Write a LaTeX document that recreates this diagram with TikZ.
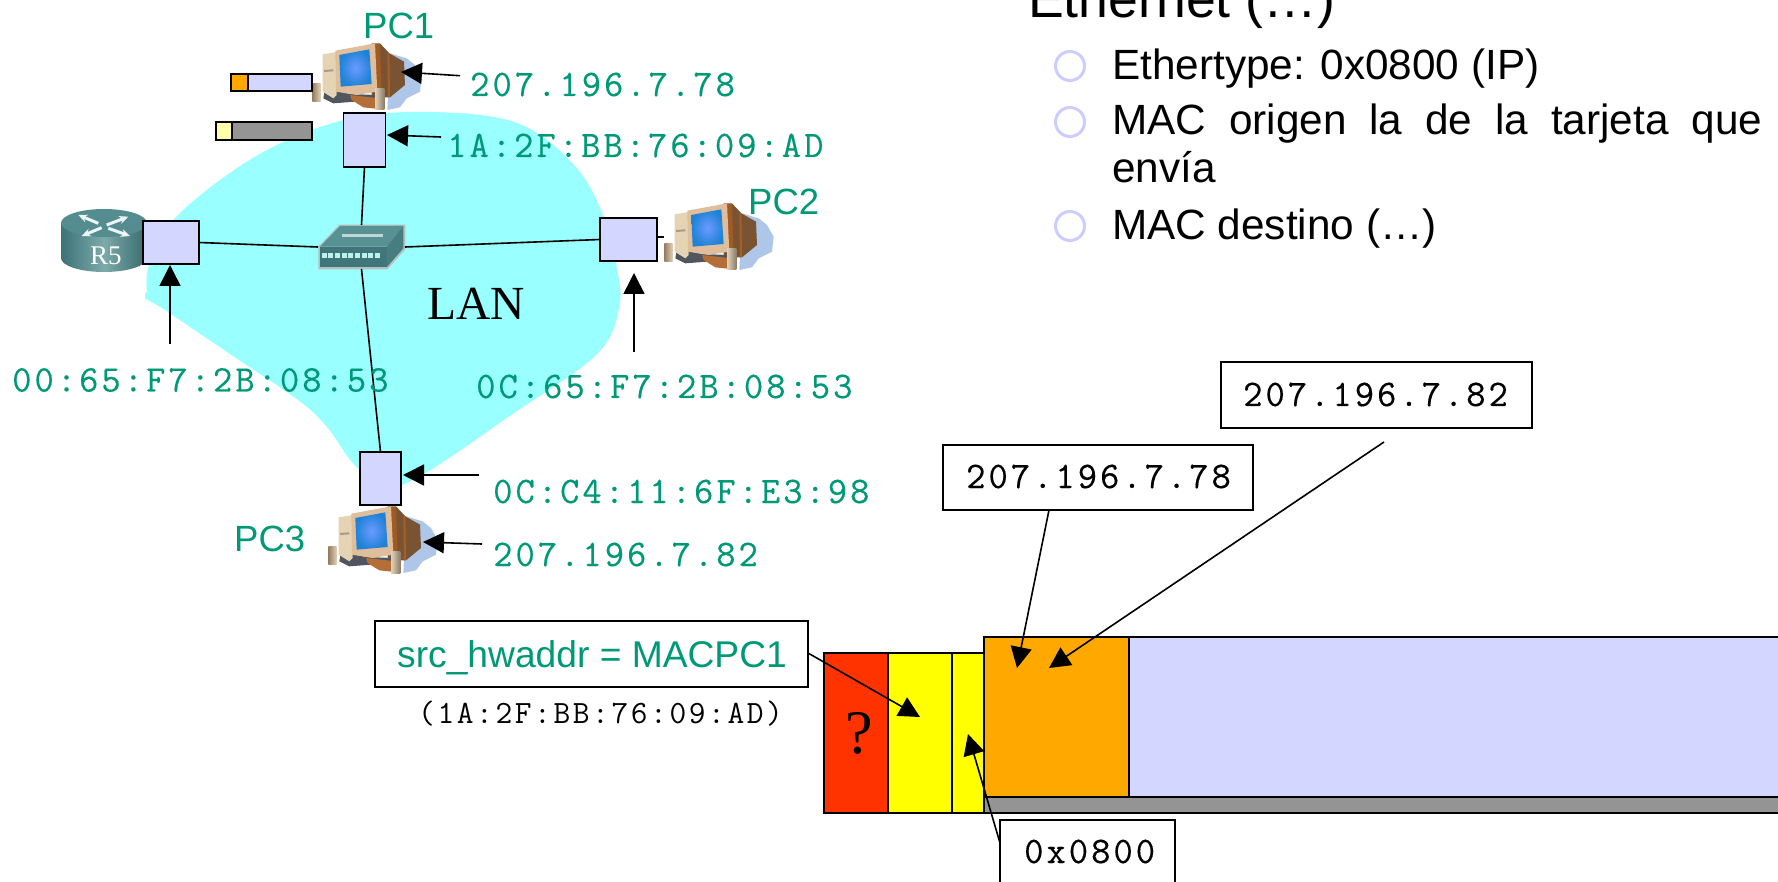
\documentclass[tikz,border=0pt]{standalone}
\usepackage{fontspec}
\setmainfont{Liberation Sans}
\newfontfamily\timesf{Liberation Serif}
\newfontfamily\ttsp[LetterSpace=8,FakeBold=0.3]{Latin Modern Mono}
\newfontfamily\ttsq[LetterSpace=8]{Latin Modern Mono}
\usetikzlibrary{arrows.meta}
\definecolor{tealc}{HTML}{009977}
\definecolor{lav}{HTML}{D3D7FF}
\definecolor{cyanb}{HTML}{99FFFF}
\definecolor{orng}{HTML}{FFA800}
\definecolor{redf}{HTML}{FF3300}
\definecolor{ring}{HTML}{CCCCFF}
\definecolor{yel}{HTML}{FFFF00}
\definecolor{ltyel}{HTML}{FFFFAA}
\definecolor{gry}{HTML}{949494}
\tikzset{
  net/.style={line width=1.6pt,draw=black},
  arr/.style={line width=1.6pt,draw=black,-{Triangle[length=21pt,width=21pt]}},
  nic/.style={draw=black,line width=1.8pt,fill=lav,inner sep=0pt,outer sep=0pt},
  seg/.style={draw=black,line width=1.6pt,inner sep=0pt,outer sep=0pt,anchor=north west},
  txt/.style={anchor=base west,inner sep=0pt},
  mac/.style={txt,text=tealc,font=\fontsize{37.5}{40}\selectfont\ttsp},
  boxt/.style={txt,text=black,font=\fontsize{37.5}{40}\selectfont\ttsp},
  pcl/.style={txt,text=tealc,font=\fontsize{36.5}{40}\selectfont},
  bull/.style={txt,text=black,font=\fontsize{42.3}{46}\selectfont},
  ringn/.style={circle,draw=ring,line width=3pt,minimum size=29pt,inner sep=0pt},
  lbox/.style={draw=black,line width=1.6pt,fill=white,inner sep=0pt,outer sep=0pt,anchor=north west},
  pcicon/.pic={
    \begin{scope}[scale=1/3]
    \fill[color={rgb,255:red,174;green,198;blue,232}] (270,100) -- (320,115) -- (345,135) -- (365,170) -- (360,215) -- (320,235) -- (300,262) -- (262,270) -- cycle;
    \fill[color={rgb,255:red,122;green,84;blue,50}] (215,70) -- (240,70) -- (268,100) -- (312,125) -- (315,195) -- (270,232) -- (215,232) -- cycle;
    \fill[color={rgb,255:red,160;green,90;blue,35}] (225,72) -- (240,72) -- (245,225) -- (232,228) -- cycle;
    \fill[color={rgb,255:red,165;green,95;blue,40}] (262,100) -- (268,100) -- (270,230) -- (264,232) -- cycle;
    \fill[color={rgb,255:red,80;green,85;blue,95}] (75,205) -- (150,222) -- (230,225) -- (230,240) -- (100,250) -- (70,235) -- cycle;
    \fill[color={rgb,255:red,180;green,110;blue,55}] (150,225) -- (240,235) -- (245,268) -- (190,262) -- (155,240) -- cycle;
    \fill[color={rgb,255:red,228;green,212;blue,180}] (68,103) -- (110,96) -- (110,225) -- (100,235) -- (68,215) -- cycle;
    \fill[color={rgb,255:red,170;green,155;blue,130}] (72,150) -- (100,148) -- (100,154) -- (72,156) -- cycle;
    \fill[color={rgb,255:red,222;green,190;blue,155}] (106,92) -- (225,70) -- (232,215) -- (170,225) -- (108,215) -- cycle;
    \shade[inner color={rgb,255:red,108;green,155;blue,255},outer color={rgb,255:red,30;green,130;blue,215}] (118,105) -- (208,88) -- (215,192) -- (122,200) -- cycle;
    \shade[left color={rgb,255:red,150;green,125;blue,95},right color={rgb,255:red,225;green,210;blue,185}] (37,190) -- (62,190) -- (62,245) -- (37,245) -- cycle;
    \shade[left color={rgb,255:red,225;green,210;blue,185},right color={rgb,255:red,140;green,125;blue,105}] (225,205) -- (253,205) -- (253,270) -- (225,270) -- cycle;
    \end{scope}
  }
}
\begin{document}
\begin{tikzpicture}[x=1pt,y=-1pt]
\useasboundingbox (0,0) rectangle (1778,882);
% LAN blob
\fill[cyanb] plot[smooth,tension=.6] coordinates {(148,300) (149,265) (178,215) (258,155) (344,120) (430,112) (517,123) (574,165) (603,215) (617,269) (619,308) (597,354) (517,411) (402,485) (359,469) (327,427) (298,400) (230,354) (162,308)} -- cycle;
\fill[cyanb] (146.5,296) ellipse (1.5pt and 4pt);
% computers
\pic (pca) at (300,20) {pcicon};
\pic (pcb) at (652,180) {pcicon};
\pic (pcc) at (316,483) {pcicon};
% router
\shade[left color={rgb,255:red,60;green,115;blue,118},right color={rgb,255:red,55;green,105;blue,108},middle color={rgb,255:red,125;green,170;blue,170}] (61,223) -- (61,258) arc[start angle=180,end angle=360,x radius=43pt,y radius=14pt] -- (147,223) -- cycle;
\fill[color={rgb,255:red,85;green,140;blue,143}] (104,223) ellipse (43pt and 14pt);
\begin{scope}[shift={(50,190)},scale=1/3]
\draw[white!92!teal,line width=3pt,-{Stealth[length=9pt,width=8pt]}] (145,100) -- (85,75);
\draw[white!92!teal,line width=3pt,-{Stealth[length=9pt,width=8pt]}] (170,105) -- (235,80);
\draw[white!92!teal,line width=3pt,-{Stealth[length=9pt,width=8pt]}] (155,113) -- (95,138);
\draw[white!92!teal,line width=3pt,-{Stealth[length=9pt,width=8pt]}] (175,115) -- (240,138);
\end{scope}
\node[txt,text=white,font=\fontsize{27}{30}\selectfont\timesf] (rfive) at (90,265) {R5};
% switch
\node[minimum width=87pt,minimum height=44pt,inner sep=0pt,outer sep=0pt] (sw) at (361.5,247) {};
\begin{scope}[shift={(50,190)},scale=1/3]
\fill[color={rgb,255:red,185;green,190;blue,190}] (805,170) -- (868,104) -- (1066,104) -- (1066,178) -- (1012,238) -- (805,238) -- cycle;
\fill[color={rgb,255:red,88;green,145;blue,148}] (810,170) -- (870,108) -- (1060,108) -- (1010,170) -- cycle;
\fill[color={rgb,255:red,62;green,118;blue,122}] (810,170) -- (1010,170) -- (1010,232) -- (810,232) -- cycle;
\fill[color={rgb,255:red,70;green,125;blue,128}] (1010,170) -- (1060,108) -- (1060,175) -- (1010,232) -- cycle;
\draw[color={rgb,255:red,190;green,215;blue,210},line width=3pt] (875,137) -- (1000,137);
\foreach \px in {815,835,855,875,895,915,935,955,975}
  \fill[color={rgb,255:red,190;green,240;blue,240}] (\px,190) rectangle ++(15,15);
\end{scope}
\node[txt,text=black,font=\fontsize{47.5}{50}\selectfont\timesf] (lan) at (427,320) {LAN};
% packets
\node[seg,fill=lav,minimum width=81pt,minimum height=17pt] (pka) at (231,74) {};
\node[seg,fill=orng,minimum width=17pt,minimum height=17pt] (pkb) at (231,74) {};
\node[seg,fill=gry,minimum width=96pt,minimum height=18pt] (pkc) at (216,122) {};
\node[seg,fill=ltyel,minimum width=16pt,minimum height=18pt] (pkd) at (216,122) {};
% NICs
\node[nic,minimum width=42pt,minimum height=54pt] (nica) at (364.5,140) {};
\node[nic,minimum width=56pt,minimum height=43pt] (nicr) at (171,242.5) {};
\node[nic,minimum width=57pt,minimum height=43pt] (nicb) at (628.5,239.5) {};
\node[nic,minimum width=41pt,minimum height=53pt] (nicc) at (380.5,478.5) {};
\coordinate (stub) at (664,237);
% links
\draw[net] (nica.south) -- (sw.north);
\draw[net] (nicr.east) -- (sw.west);
\draw[net] (sw.east) -- (nicb.west);
\draw[net] (sw.south) -- (nicc.north);
\draw[net] (nicb.east |- stub) -- (stub);
% labels
\node[pcl] (la) at (363,39) {PC1};
\node[pcl] (lb) at (748,215) {PC2};
\node[pcl] (lc) at (234,551) {PC3};
\node[mac] (ipa) at (470,96) {207.196.7.78};
\node[mac] (maca) at (447,157) {1A:2F:BB:76:09:AD};
\node[mac] (macr) at (12,391.5) {00:65:F7:2B:08:53};
\node[mac] (macb) at (476,398) {0C:65:F7:2B:08:53};
\node[mac] (macc) at (493,503) {0C:C4:11:6F:E3:98};
\node[mac] (ipc) at (493,566) {207.196.7.82};
% address arrows
\coordinate (ta) at (460,75.7); \coordinate (ha) at (401,72);
\coordinate (tb) at (441,137); \coordinate (hb) at (387,135);
\coordinate (tc) at (170,344); \coordinate (hc) at (170,265);
\coordinate (td) at (634,352); \coordinate (hd) at (634,273);
\coordinate (te) at (479,475); \coordinate (he) at (403,475);
\coordinate (tf) at (482,544); \coordinate (hf) at (423,542);
\draw[arr] (ta) -- (ha);
\draw[arr] (tb) -- (hb);
\draw[arr] (tc) -- (hc);
\draw[arr] (td) -- (hd);
\draw[arr] (te) -- (he);
\draw[arr] (tf) -- (hf);
% frame
\node[seg,fill=lav,minimum width=660pt,minimum height=160pt] (data) at (1129,637) {};
\node[seg,fill=gry,minimum width=806pt,minimum height=16pt] (trail) at (984,797) {};
\node[seg,fill=redf,minimum width=65pt,minimum height=160pt] (fcs) at (824,653) {};
\node[seg,fill=yel,minimum width=64pt,minimum height=160pt] (src) at (888,653) {};
\node[seg,fill=yel,minimum width=32pt,minimum height=160pt] (typ) at (952,653) {};
\node[seg,fill=orng,minimum width=145pt,minimum height=160pt] (ip) at (984,637) {};
\node[txt,text=black,font=\fontsize{62}{66}\selectfont\timesf] (q) at (845,753) {?};
% boxes
\node[lbox,minimum width=433pt,minimum height=66pt] (bsrc) at (375,621) {};
\node[txt,text=tealc,font=\fontsize{37.2}{40}\selectfont] (tsrc) at (397,667) {src\_hwaddr = MACPC1};
\node[txt,text=black,font=\fontsize{32.5}{36}\selectfont\ttsq] (tmac) at (418,723) {(1A:2F:BB:76:09:AD)};
\node[lbox,minimum width=310pt,minimum height=65pt] (bipa) at (943,445) {};
\node[boxt] (tipa) at (966,488) {207.196.7.78};
\node[lbox,minimum width=311pt,minimum height=66pt] (bipb) at (1221,362) {};
\node[boxt] (tipb) at (1243,406) {207.196.7.82};
\node[lbox,minimum width=175pt,minimum height=80pt] (btyp) at (1000,820) {};
\node[boxt] (ttyp) at (1024,863) {0x0800};
\coordinate (tsa) at (bsrc.east |- 0,653); \coordinate (hsa) at (920,717);
\coordinate (tsb) at (1049,510); \coordinate (hsb) at (1017,668);
\coordinate (tsc) at (1384,442); \coordinate (hsc) at (1049,668);
\coordinate (tsd) at (1000,843); \coordinate (hsd) at (968,734);
\draw[arr] (tsa) -- (hsa);
\draw[arr] (tsb) -- (hsb);
\draw[arr] (tsc) -- (hsc);
\draw[arr] (tsd) -- (hsd);
% right text
\node[txt,text=black,font=\fontsize{53.6}{58}\selectfont] (head) at (1028,18) {Ethernet (…)};
\node[ringn] (ra) at (1070,66) {};
\node[ringn] (rb) at (1070,122) {};
\node[ringn] (rc) at (1070,226) {};
\node[bull] (ba) at (1112,80) {Ethertype: 0x0800 (IP)};
\node[bull] (bb) at (1112,135) {\hbox to 650pt{MAC\hfill origen\hfill la\hfill de\hfill la\hfill tarjeta\hfill que}};
\node[bull] (bc) at (1112,183) {envía};
\node[bull] (bd) at (1112,240) {MAC destino (…)};
\end{tikzpicture}
\end{document}
